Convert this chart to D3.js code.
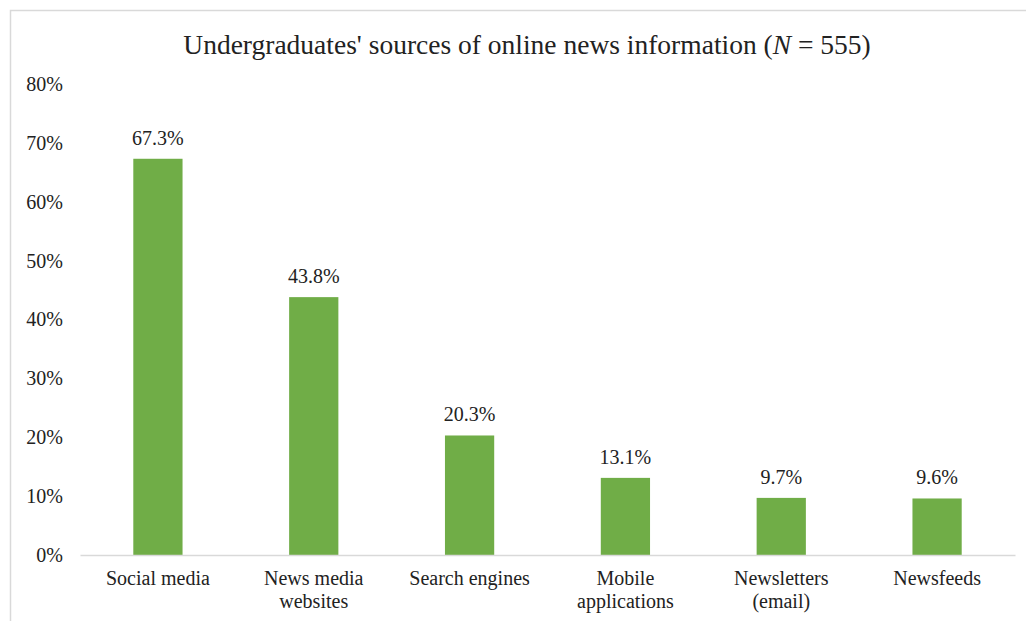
<!DOCTYPE html>
<html>
<head>
<meta charset="utf-8">
<script src="https://cdn.jsdelivr.net/npm/d3@7/dist/d3.min.js"></script>
<style>
  html, body { margin: 0; padding: 0; background: #fff; }
  svg { display: block; }
  text { font-family: "Liberation Serif", "Times New Roman", serif; fill: #222; }
</style>
</head>
<body>
<svg id="chart" width="1026" height="621"></svg>
<script>
const categories = [["Social media"], ["News media", "websites"], ["Search engines"], ["Mobile", "applications"], ["Newsletters", "(email)"], ["Newsfeeds"]];
const values = [67.3, 43.8, 20.3, 13.1, 9.7, 9.6];
const valueLabels = ["67.3%", "43.8%", "20.3%", "13.1%", "9.7%", "9.6%"];
const yTicks = [0, 10, 20, 30, 40, 50, 60, 70, 80];
const titleText = "Undergraduates' sources of online news information (";

(function () {
const svg = d3.select("#chart");

// chart border (partially visible)
svg.append("rect")
  .attr("x", 10.5).attr("y", 10.5)
  .attr("width", 1040).attr("height", 640)
  .attr("fill", "none").attr("stroke", "#d9d9d9").attr("stroke-width", 1.5);

const plotLeft = 80, plotRight = 1015, plotTop = 84, plotBottom = 555;

const x = d3.scaleBand()
  .domain(d3.range(categories.length))
  .range([plotLeft, plotRight])
  .padding(0);

const y = d3.scaleLinear().domain([0, 80]).range([plotBottom, plotTop]);

const barW = x.bandwidth() * 0.316;
const fs = 20;

// title
const title = svg.append("text")
  .attr("x", 527).attr("y", 54)
  .attr("text-anchor", "middle")
  .attr("font-size", 27.5);
title.append("tspan").text(titleText);
title.append("tspan").attr("font-style", "italic").text("N");
title.append("tspan").text(" = 555)");

// y axis labels
const yAxis = d3.axisLeft(y).tickValues(yTicks).tickFormat(d => d + "%").tickSize(0).tickPadding(0);
const yg = svg.append("g").attr("transform", "translate(63,0)").call(yAxis);
yg.select(".domain").remove();
yg.selectAll("text").attr("font-size", fs).attr("font-family", "Liberation Serif").attr("fill", "#222");

// bars
svg.append("g").selectAll("rect")
  .data(values)
  .join("rect")
  .attr("x", (d, i) => x(i) + x.bandwidth() / 2 - barW / 2)
  .attr("width", barW)
  .attr("y", d => y(d))
  .attr("height", d => y(0) - y(d))
  .attr("fill", "#70ad47");

// baseline
const xAxis = d3.axisBottom(x).tickSize(0).tickFormat("");
const xg = svg.append("g").attr("transform", `translate(0,${plotBottom})`).call(xAxis);
xg.select(".domain").attr("stroke", "#d9d9d9").attr("stroke-width", 1.3);

// value labels
svg.append("g").selectAll("text")
  .data(values)
  .join("text")
  .attr("x", (d, i) => x(i) + x.bandwidth() / 2)
  .attr("y", d => y(d) - 14)
  .attr("text-anchor", "middle")
  .attr("font-size", fs)
  .text((d, i) => valueLabels[i]);

// category labels
const cg = svg.append("g").selectAll("text")
  .data(categories)
  .join("text")
  .attr("x", (d, i) => x(i) + x.bandwidth() / 2)
  .attr("y", 585)
  .attr("text-anchor", "middle")
  .attr("font-size", fs);
cg.selectAll("tspan")
  .data(d => d)
  .join("tspan")
  .attr("x", function () { return d3.select(this.parentNode).attr("x"); })
  .attr("dy", (d, j) => j === 0 ? 0 : 23)
  .text(d => d);
})();
</script>
</body>
</html>
